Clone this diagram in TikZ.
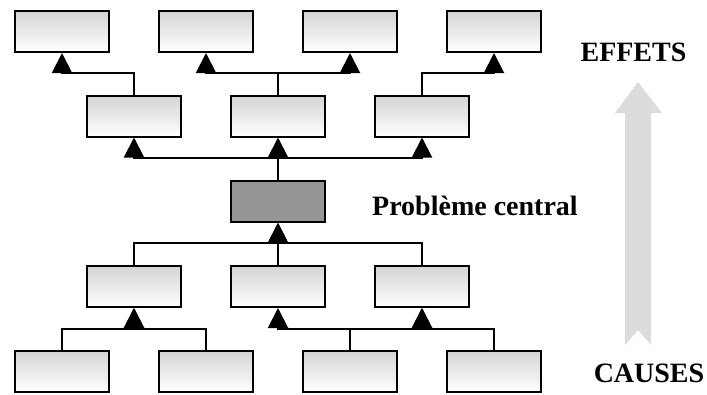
\documentclass[tikz,border=0pt]{standalone}
\usepackage{fontspec}
\setmainfont{Liberation Serif}
\usetikzlibrary{arrows.meta}
\definecolor{boxtop}{RGB}{212,212,212}
\definecolor{centralfill}{RGB}{150,150,150}
\definecolor{flowgray}{RGB}{220,220,220}
\begin{document}
\begin{tikzpicture}[x=1pt,y=-1pt,
  box/.style={draw=black,line width=2pt,minimum width=94pt,minimum height=41pt,
    inner sep=0pt,top color=boxtop,bottom color=white},
  centralbox/.style={draw=black,line width=2pt,minimum width=94pt,minimum height=41pt,
    inner sep=0pt,fill=centralfill},
  link/.style={draw=black,line width=2pt,-{Triangle[width=20pt,length=20pt]}},
  label/.style={font=\fontsize{28}{30}\selectfont\bfseries,inner sep=0pt,anchor=base}]
\useasboundingbox (0,0) rectangle (707,394);

% level of the horizontal connector lines
\coordinate (lvA) at (0,73);
\coordinate (lvB) at (0,158);
\coordinate (lvC) at (0,243);
\coordinate (lvD) at (0,329);

% effects
\node[box] (t1) at (62,31.5) {};
\node[box] (t2) at (206,31.5) {};
\node[box] (t3) at (350,31.5) {};
\node[box] (t4) at (494,31.5) {};
\node[box] (u1) at (134,116) {};
\node[box] (u2) at (278,116) {};
\node[box] (u3) at (422,116) {};

% central problem
\node[centralbox] (c) at (278,201.5) {};

% causes
\node[box] (l1) at (134,286.5) {};
\node[box] (l2) at (278,286.5) {};
\node[box] (l3) at (422,286.5) {};
\node[box] (b1) at (62,371.5) {};
\node[box] (b2) at (206,371.5) {};
\node[box] (b3) at (350,371.5) {};
\node[box] (b4) at (494,371.5) {};

% connectors, each from cause to effect
\draw[link] (u1.north) |- (t1.south |- lvA) -- (t1.south);
\draw[link] (u2.north) |- (t2.south |- lvA) -- (t2.south);
\draw[link] (u2.north) |- (t3.south |- lvA) -- (t3.south);
\draw[link] (u3.north) |- (t4.south |- lvA) -- (t4.south);

\draw[link] (c.north) |- (u1.south |- lvB) -- (u1.south);
\draw[link] (c.north) -- (u2.south);
\draw[link] (c.north) |- (u3.south |- lvB) -- (u3.south);

\draw[link] (l1.north) |- (c.south |- lvC) -- (c.south);
\draw[link] (l2.north) -- (c.south);
\draw[link] (l3.north) |- (c.south |- lvC) -- (c.south);

\draw[link] (b1.north) |- (l1.south |- lvD) -- (l1.south);
\draw[link] (b2.north) |- (l1.south |- lvD) -- (l1.south);
\draw[link] (b3.north) |- (l2.south |- lvD) -- (l2.south);
\draw[link] (b4.north) |- (l3.south |- lvD) -- (l3.south);
\draw[link] (b3.north) |- (l3.south |- lvD) -- (l3.south);

% direction arrow from causes to effects
\fill[flowgray] (625,345) -- (625,113) -- (615,113) -- (638,82) -- (662,113)
  -- (651,113) -- (651,345) -- (638,330) -- cycle;

\node[label] (effets) at (633.5,61) {EFFETS};
\node[label] (causes) at (649,382) {CAUSES};
\node[label,anchor=base west] (central) at (372,215) {Problème central};
\end{tikzpicture}
\end{document}
